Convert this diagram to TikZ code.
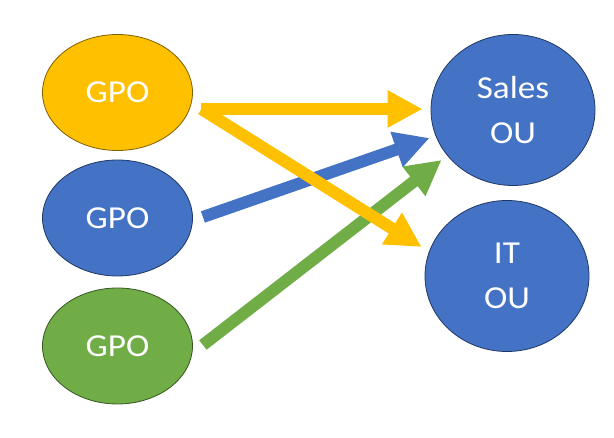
\documentclass[tikz,border=0pt]{standalone}
\usepackage{fontspec}
\setmainfont{Carlito}[FakeStretch=1.1]
\usetikzlibrary{shapes.geometric,arrows.meta}
\definecolor{cy}{HTML}{FFC000}
\definecolor{cyd}{HTML}{7F6000}
\definecolor{cb}{HTML}{4472C4}
\definecolor{cbd}{HTML}{203864}
\definecolor{cg}{HTML}{70AD47}
\definecolor{cgd}{HTML}{385723}
\begin{document}
\begin{tikzpicture}[x=1pt,y=-1pt,
  blob/.style={ellipse,inner sep=0pt,line width=0.8pt,text=white,
    font=\fontsize{32}{45}\selectfont,align=center},
  gpo/.style={blob,minimum width=150pt,minimum height=116pt},
  ou/.style={blob,fill=cb,draw=cbd,minimum width=164pt,minimum height=151pt},
  arr/.style={line width=12pt,line cap=butt,-{Triangle[length=35pt,width=35pt]}}]
\useasboundingbox (0,0) rectangle (614,438);
\node[gpo,fill=cy,draw=cyd] (y) at (117.5,92.5) {GPO};
\node[gpo,fill=cb,draw=cbd] (b) at (117.5,218) {GPO};
\node[gpo,fill=cg,draw=cgd] (g) at (117.5,346) {GPO};
\node[ou] (s) at (513,110) {Sales\\OU};
\node[ou] (i) at (507,276) {IT\\OU};
\coordinate (ys) at ([shift={(8.5,16.5)}]y.east);
\coordinate (bs) at ([shift={(10,-1)}]b.east);
\coordinate (gs) at ([shift={(10,-1)}]g.east);
\coordinate (st1) at ([shift={(-8,-1)}]s.west);
\coordinate (st2) at ([shift={(-1,28)}]s.west);
\coordinate (st3) at ([shift={(11,50)}]s.west);
\coordinate (it1) at ([shift={(-3,-29)}]i.west);
\draw[arr,cb] (bs) -- (st2);
\draw[arr,cg] (gs) -- (st3);
\draw[arr,cy] (ys) -- (st1);
\draw[arr,cy] (ys) -- (it1);
\end{tikzpicture}
\end{document}
